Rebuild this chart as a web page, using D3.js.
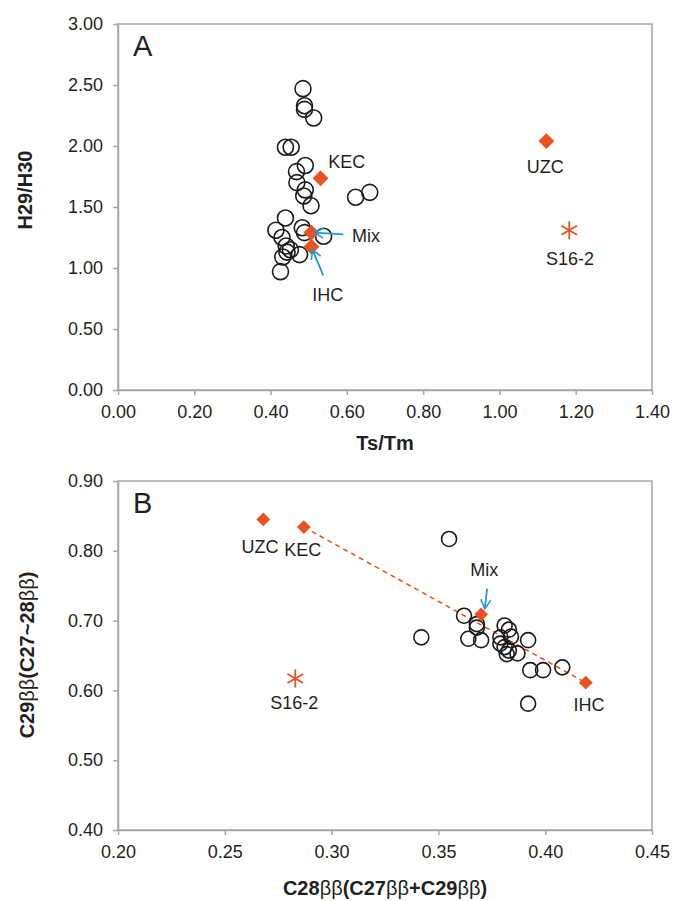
<!DOCTYPE html>
<html>
<head>
<meta charset="utf-8">
<script src="https://cdn.jsdelivr.net/npm/d3@7"></script>
<style>
  body { margin: 0; background: #fff; }
  svg { font-family: "Liberation Sans", Arial, sans-serif; }
</style>
</head>
<body>
<svg id="chart" width="673" height="901"></svg>
<script>
// Panel A: Ts/Tm vs H29/H30
var aSamples = [
  [0.485, 2.47], [0.489, 2.33], [0.489, 2.30], [0.513, 2.23],
  [0.439, 1.99], [0.454, 1.99], [0.491, 1.84], [0.468, 1.79],
  [0.469, 1.70], [0.491, 1.64], [0.487, 1.59], [0.506, 1.51],
  [0.623, 1.58], [0.660, 1.62], [0.439, 1.41], [0.414, 1.31],
  [0.430, 1.25], [0.483, 1.33], [0.489, 1.29], [0.539, 1.26],
  [0.441, 1.18], [0.443, 1.13], [0.432, 1.09], [0.476, 1.11],
  [0.452, 1.15], [0.426, 0.97]
]
var aEnds = [
  { name: 'KEC', x: 0.531, y: 1.735 },
  { name: 'Mix', x: 0.507, y: 1.29 },
  { name: 'IHC', x: 0.507, y: 1.175 },
  { name: 'UZC', x: 1.123, y: 2.04 }
]
var aStar = { name: 'S16-2', x: 1.183, y: 1.31 }
var aLabels = [
  { text: 'KEC', x: 0.60, y: 1.87 },
  { text: 'Mix', x: 0.65, y: 1.265 },
  { text: 'IHC', x: 0.55, y: 0.78 },
  { text: 'UZC', x: 1.12, y: 1.83 },
  { text: 'S16-2', x: 1.185, y: 1.08 }
]
var aArrows = [
  { x1: 0.591, y1: 1.275, x2: 0.515, y2: 1.29 },
  { x1: 0.538, y1: 0.94, x2: 0.510, y2: 1.15 }
]
var aXTicks = [0, 0.2, 0.4, 0.6, 0.8, 1.0, 1.2, 1.4]
var aYTicks = [0, 0.5, 1.0, 1.5, 2.0, 2.5, 3.0]

// Panel B: C28/(C27+C29) vs C29/(C27~28)
var bSamples = [
  [0.355, 0.817], [0.342, 0.676], [0.362, 0.707], [0.368, 0.695],
  [0.368, 0.690], [0.364, 0.674], [0.370, 0.672], [0.381, 0.693],
  [0.383, 0.687], [0.379, 0.676], [0.384, 0.677], [0.392, 0.672],
  [0.379, 0.667], [0.381, 0.662], [0.383, 0.657], [0.382, 0.652],
  [0.387, 0.653], [0.393, 0.629], [0.399, 0.629], [0.408, 0.633],
  [0.392, 0.581]
]
var bEnds = [
  { name: 'UZC', x: 0.268, y: 0.845 },
  { name: 'KEC', x: 0.287, y: 0.834 },
  { name: 'Mix', x: 0.370, y: 0.709 },
  { name: 'IHC', x: 0.419, y: 0.611 }
]
var bStar = { name: 'S16-2', x: 0.283, y: 0.617 }
var bMixLine = [[0.287, 0.834], [0.419, 0.611]]
var bLabels = [
  { text: 'UZC', x: 0.2665, y: 0.806 },
  { text: 'KEC', x: 0.2865, y: 0.801 },
  { text: 'Mix', x: 0.3715, y: 0.773 },
  { text: 'IHC', x: 0.4205, y: 0.58 },
  { text: 'S16-2', x: 0.2825, y: 0.582 }
]
var bArrows = [
  { x1: 0.3728, y1: 0.746, x2: 0.3717, y2: 0.717 }
]
var bXTicks = [0.20, 0.25, 0.30, 0.35, 0.40, 0.45]
var bYTicks = [0.40, 0.50, 0.60, 0.70, 0.80, 0.90]

var orange = '#ea5120'
var blue = '#1b9ad6'
var axisGray = '#a6a6a6'

var svg = d3.select('#chart')

svg.append('defs').append('marker')
  .attr('id', 'vhead')
  .attr('viewBox', '-10 -6 12 12')
  .attr('markerWidth', 12).attr('markerHeight', 12)
  .attr('markerUnits', 'userSpaceOnUse')
  .attr('orient', 'auto')
  .append('path')
    .attr('d', 'M-9,-5 L0,0 L-9,5')
    .attr('fill', 'none')
    .attr('stroke', blue)
    .attr('stroke-width', 1.6)

function starPath (r) {
  var p = ''
  ;[90, 30, 150].forEach(function (deg) {
    var a = deg * Math.PI / 180
    var dx = r * Math.cos(a), dy = r * Math.sin(a)
    p += 'M' + (-dx) + ',' + (-dy) + 'L' + dx + ',' + dy
  })
  return p
}

function panel (opt) {
  var x = d3.scaleLinear().domain(opt.xDomain).range([118, 652])
  var y = d3.scaleLinear().domain(opt.yDomain).range([opt.bottom, opt.top])
  var g = svg.append('g')

  g.append('rect')
    .attr('x', 118).attr('y', opt.top)
    .attr('width', 534).attr('height', opt.bottom - opt.top)
    .attr('fill', 'none').attr('stroke', axisGray).attr('stroke-width', 1.5)

  var xAxis = g.append('g')
    .attr('transform', 'translate(0,' + opt.bottom + ')')
    .call(d3.axisBottom(x).tickValues(opt.xTicks).tickFormat(d3.format('.2f'))
      .tickSize(5).tickSizeOuter(0).tickPadding(10))
  var yAxis = g.append('g')
    .attr('transform', 'translate(118,0)')
    .call(d3.axisLeft(y).tickValues(opt.yTicks).tickFormat(d3.format('.2f'))
      .tickSize(5).tickSizeOuter(0).tickPadding(10))
  ;[xAxis, yAxis].forEach(function (ax) {
    ax.select('.domain').attr('stroke', axisGray).attr('stroke-width', 1.5)
    ax.selectAll('.tick line').attr('stroke', axisGray).attr('stroke-width', 1.5)
    ax.selectAll('.tick text').attr('fill', '#231f20')
      .style('font-size', '18px').style('font-family', '"Liberation Sans", Arial, sans-serif')
  })

  if (opt.line) {
    g.append('path')
      .datum(opt.line)
      .attr('d', d3.line().x(function (d) { return x(d[0]) }).y(function (d) { return y(d[1]) }))
      .attr('fill', 'none').attr('stroke', orange)
      .attr('stroke-width', 1.5).attr('stroke-dasharray', '5,4')
  }

  g.selectAll('circle.s')
    .data(opt.samples)
    .enter().append('circle')
      .attr('class', 's')
      .attr('cx', function (d) { return x(d[0]) })
      .attr('cy', function (d) { return y(d[1]) })
      .attr('r', opt.r)
      .attr('fill', 'none').attr('stroke', '#1a1a1a').attr('stroke-width', 1.6)

  g.selectAll('path.end')
    .data(opt.ends)
    .enter().append('path')
      .attr('class', 'end')
      .attr('d', d3.symbol().type(d3.symbolSquare).size(opt.dSize))
      .attr('transform', function (d) { return 'translate(' + x(d.x) + ',' + y(d.y) + ') rotate(45)' })
      .attr('fill', orange)

  g.append('path')
    .attr('d', starPath(9))
    .attr('transform', 'translate(' + x(opt.star.x) + ',' + y(opt.star.y) + ')')
    .attr('stroke', orange).attr('stroke-width', 1.8).attr('fill', 'none')

  g.selectAll('line.arrow')
    .data(opt.arrows)
    .enter().append('line')
      .attr('class', 'arrow')
      .attr('x1', function (d) { return x(d.x1) }).attr('y1', function (d) { return y(d.y1) })
      .attr('x2', function (d) { return x(d.x2) }).attr('y2', function (d) { return y(d.y2) })
      .attr('stroke', blue).attr('stroke-width', 1.8)
      .attr('marker-end', 'url(#vhead)')

  g.selectAll('text.lab')
    .data(opt.labels)
    .enter().append('text')
      .attr('class', 'lab')
      .attr('x', function (d) { return x(d.x) })
      .attr('y', function (d) { return y(d.y) })
      .attr('text-anchor', 'middle')
      .attr('dy', '0.35em')
      .attr('fill', '#231f20')
      .style('font-size', '18px')
      .text(function (d) { return d.text })

  g.append('text')
    .attr('x', 133).attr('y', opt.top + 32)
    .attr('fill', '#231f20')
    .style('font-size', '29px')
    .text(opt.letter)

  var xt = g.append('text')
    .attr('x', 385).attr('y', opt.xTitleY)
    .attr('text-anchor', 'middle')
    .attr('fill', '#231f20')
    .style('font-size', '20px')
  opt.xTitle.forEach(function (t) {
    xt.append('tspan').attr('font-weight', t[1] ? 'bold' : 'normal').text(t[0])
  })

  var yt = g.append('text')
    .attr('transform', 'translate(' + opt.yTitleX + ',' + opt.yTitleY + ') rotate(-90)')
    .attr('text-anchor', 'middle')
    .attr('fill', '#231f20')
    .style('font-size', '20px')
  opt.yTitle.forEach(function (t) {
    yt.append('tspan').attr('font-weight', t[1] ? 'bold' : 'normal').text(t[0])
  })
}

panel({
  letter: 'A', top: 24, bottom: 390,
  xDomain: [0, 1.4], yDomain: [0, 3],
  xTicks: aXTicks, yTicks: aYTicks,
  samples: aSamples, ends: aEnds, star: aStar,
  labels: aLabels, arrows: aArrows, r: 8, dSize: 125,
  xTitle: [['Ts/Tm', true]], xTitleY: 450,
  yTitle: [['H29/H30', true]], yTitleX: 32, yTitleY: 190
})

panel({
  letter: 'B', top: 481, bottom: 830,
  xDomain: [0.2, 0.45], yDomain: [0.4, 0.9],
  xTicks: bXTicks, yTicks: bYTicks,
  samples: bSamples, ends: bEnds, star: bStar, line: bMixLine,
  labels: bLabels, arrows: bArrows, r: 7.5, dSize: 95,
  xTitle: [['C28', true], ['\u03b2\u03b2', false], ['(C27', true], ['\u03b2\u03b2', false],
    ['+C29', true], ['\u03b2\u03b2', false], [')', true]], xTitleY: 895,
  yTitle: [['C29', true], ['\u03b2\u03b2', false], ['(C27~28', true], ['\u03b2\u03b2', false], [')', true]],
  yTitleX: 34, yTitleY: 655
})
</script>
</body>
</html>
